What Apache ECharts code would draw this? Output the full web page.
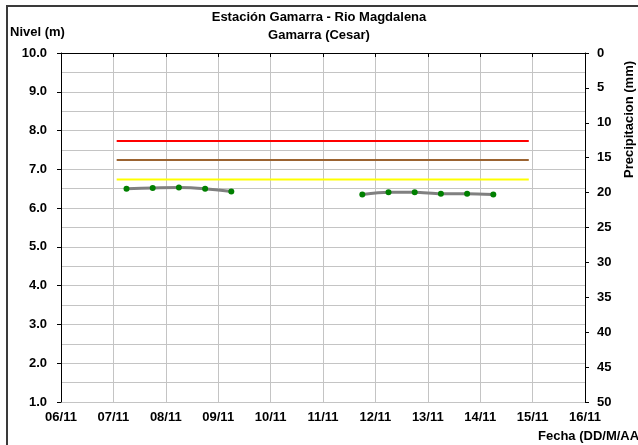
<!DOCTYPE html>
<html>
<head>
<meta charset="utf-8">
<script src="https://cdn.jsdelivr.net/npm/echarts@6/dist/echarts.min.js"></script>
<style>
  html, body { margin: 0; padding: 0; background: #fff; }
  #chart { width: 638px; height: 445px; }
</style>
</head>
<body>
<div id="chart"></div>
<script>
// dias del eje x (06/11 .. 16/11)
var dias = ['06/11', '07/11', '08/11', '09/11', '10/11', '11/11', '12/11', '13/11', '14/11', '15/11', '16/11'];

// lecturas de nivel (dos por dia, 06:00 y 18:00)
var fechas = ['07/11 06:00', '07/11 18:00', '08/11 06:00', '08/11 18:00', '09/11 06:00',
              '09/11 18:00', '10/11 06:00', '10/11 18:00', '11/11 06:00', '11/11 18:00',
              '12/11 06:00', '12/11 18:00', '13/11 06:00', '13/11 18:00', '14/11 06:00'];
var nivel = [6.50, 6.52, 6.53, 6.50, 6.43,
             null, null, null, null, 6.35,
             6.41, 6.41, 6.37, 6.37, 6.35];

// niveles de alerta
var alertaInicio = '07/11 01:30';
var alertaFin = '14/11 22:15';
var alertaRoja = 7.73;
var alertaNaranja = 7.24;
var alertaAmarilla = 6.74;

// convierte 'DD/MM HH:mm' a dias desde 06/11 00:00
function aDias(f) {
    var d = parseInt(f.substr(0, 2), 10);
    var h = parseInt(f.substr(6, 2), 10);
    var m = parseInt(f.substr(9, 2), 10);
    return (d - 6) + (h + m / 60) / 24;
}

function linea(valor) {
    return [[aDias(alertaInicio), valor], [aDias(alertaFin), valor]];
}

var serieNivel = fechas.map(function (f, i) {
    return [aDias(f), nivel[i]];
});

var familia = 'Liberation Sans, Arial, sans-serif';
var fuente = { fontFamily: familia, fontWeight: 'bold', fontSize: 13, color: '#000' };

var chart = echarts.init(document.getElementById('chart'), null, { renderer: 'canvas' });

var option = {
    animation: false,
    backgroundColor: '#fff',
    title: {
        text: 'Estación Gamarra - Rio Magdalena\nGamarra (Cesar)',
        left: 'center',
        top: 3,
        textStyle: { fontFamily: familia, fontWeight: 'bold', fontSize: 13, lineHeight: 18, color: '#000' }
    },
    grid: { left: 61, right: 53, top: 53, bottom: 43 },
    xAxis: {
        type: 'value',
        min: 0,
        max: 10,
        interval: 1,
        axisLine: { lineStyle: { color: '#000', width: 1 } },
        axisTick: { show: true, length: 4, lineStyle: { color: '#000' } },
        axisLabel: Object.assign({ margin: 9, formatter: function (v) { return dias[Math.round(v)]; } }, fuente),
        splitLine: { show: true, lineStyle: { color: '#c4c4c4', width: 1 } }
    },
    yAxis: [{
        type: 'value',
        min: 1,
        max: 10,
        interval: 1,
        axisLine: { show: true, lineStyle: { color: '#000', width: 1 } },
        axisTick: { show: true, length: 4, lineStyle: { color: '#000' } },
        axisLabel: Object.assign({ margin: 14, formatter: function (v) { return v.toFixed(1); } }, fuente),
        splitLine: { show: true, lineStyle: { color: '#c4c4c4', width: 1 } },
        minorTick: { show: false, splitNumber: 2 },
        minorSplitLine: { show: true, lineStyle: { color: '#c4c4c4', width: 1 } }
    }, {
        type: 'value',
        min: 0,
        max: 50,
        interval: 5,
        inverse: true,
        position: 'right',
        axisLine: { show: true, lineStyle: { color: '#000', width: 1 } },
        axisTick: { show: true, length: 4, lineStyle: { color: '#000' } },
        axisLabel: Object.assign({ margin: 12 }, fuente),
        splitLine: { show: false }
    }],
    graphic: [
        { type: 'rect', silent: true, z: -1, shape: { x: 7, y: 6, width: 700, height: 500 },
          style: { fill: 'none', stroke: '#3a3a3a', lineWidth: 2 } },
        { type: 'text', left: 10, top: 26, style: { text: 'Nivel (m)', font: 'bold 13px ' + familia, fill: '#000' } },
        { type: 'text', left: 538, top: 430, style: { text: 'Fecha (DD/M/AA)', font: 'bold 13px ' + familia, fill: '#000' } },
        { type: 'text', x: 623, y: 178, rotation: Math.PI / 2,
          style: { text: 'Precipitacion (mm)', font: 'bold 13px ' + familia, fill: '#000' } }
    ],
    series: [{
        name: 'Alerta roja',
        type: 'line',
        data: linea(alertaRoja),
        symbol: 'none',
        lineStyle: { color: '#ff0000', width: 2 }
    }, {
        name: 'Alerta naranja',
        type: 'line',
        data: linea(alertaNaranja),
        symbol: 'none',
        lineStyle: { color: '#9b6331', width: 2 }
    }, {
        name: 'Alerta amarilla',
        type: 'line',
        data: linea(alertaAmarilla),
        symbol: 'none',
        lineStyle: { color: '#ffff00', width: 2 }
    }, {
        name: 'Nivel',
        type: 'line',
        data: serieNivel,
        smooth: 0.3,
        connectNulls: false,
        symbol: 'circle',
        symbolSize: 6,
        itemStyle: { color: '#008000' },
        lineStyle: { color: '#808080', width: 3 },
        z: 5
    }]
};

option && chart.setOption(option);
</script>
</body>
</html>
